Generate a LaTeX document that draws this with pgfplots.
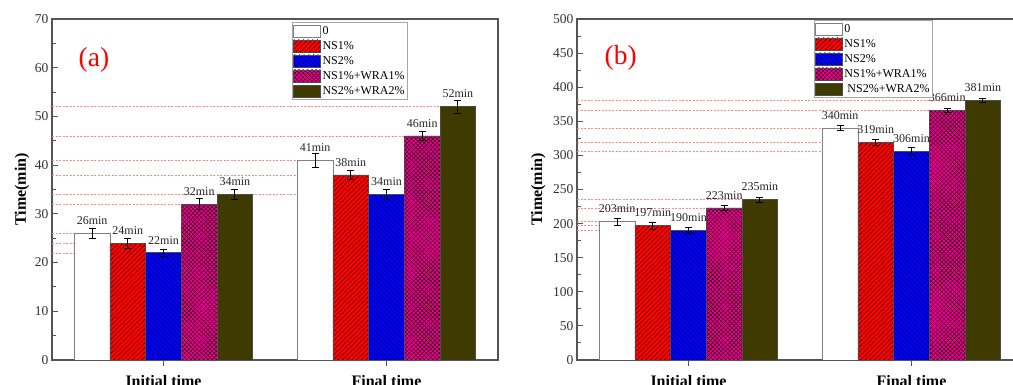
\documentclass[border=0pt]{standalone}
\usepackage{fontspec}
\setmainfont{Liberation Serif}
\usepackage{pgfplots}
\pgfplotsset{compat=1.18}
\usetikzlibrary{patterns.meta}

\definecolor{darkolive}{RGB}{62,58,0}
\definecolor{refline}{RGB}{255,135,135}
\definecolor{axgray}{RGB}{85,85,85}

\pgfplotsset{
  mybar/.style={draw=black!70, line width=0.7pt,
    point meta=y,
    nodes near coords={\pgfmathprintnumber{\pgfplotspointmeta}min},
    nodes near coords style={font=\fontsize{12}{14}\selectfont, text=black!85, yshift=5pt},
    /pgfplots/error bars/y dir=both, /pgfplots/error bars/y explicit,
    /pgfplots/error bars/error bar style={black, line width=0.8pt},
    /pgfplots/error bars/error mark options={rotate=90, black, mark size=3.5pt, line width=0.8pt}},
  refl/.style={sharp plot, draw=refline, line width=0.6pt, dash pattern=on 2pt off 1.5pt, forget plot, mark=none, update limits=false},
  panel/.style={anchor=south west, scale only axis, width=446pt, height=341pt,
    ybar=0pt, bar width=0.16,
    xmin=-0.5, xmax=1.5, ymin=0,
    xtick={0,1}, xticklabels={Initial time, Final time},
    tick pos=left, xtick align=outside, ytick align=inside,
    major tick length=6pt, minor tick length=3.5pt,
    axis line style={draw=axgray, line width=1.3pt},
    tick style={axgray, line width=1pt},
    y tick label style={font=\fontsize{13.5}{15}\selectfont, text=black!80},
    x tick label style={font=\bfseries\fontsize{16}{18}\selectfont, yshift=-6pt},
    ylabel={Time(min)},
    /pgf/number format/assume math mode=true,
    legend cell align=left,
    legend style={draw=gray!70, line width=0.8pt, inner sep=1pt, fill=white,
      font=\fontsize{12}{14}\selectfont, row sep=0pt,
      nodes={inner sep=1.5pt, text height=9.5pt, text depth=2.5pt}},
    legend image code/.code={\draw[##1] (0pt,-6pt) rectangle (27pt,6pt);},
  },
  redbar/.style={fill=red, postaction={pattern={Lines[angle=45,distance=3.3pt,line width=0.35pt]}}},
  bluebar/.style={fill=blue, postaction={pattern={Lines[angle=-45,distance=3.3pt,line width=0.35pt]}}},
  magbar/.style={fill=magenta, postaction={pattern={Hatch[angle=45,distance=3pt,line width=0.3pt]}}},
}

\begin{document}
\begin{tikzpicture}
\useasboundingbox (0,0) rectangle (1013pt,385pt);
\fill[white] (0,0) rectangle (1013pt,385pt);
% ---------------- panel (a)
\begin{axis}[panel, at={(52pt,25pt)}, ymax=70, ytick distance=10, minor y tick num=1,
  ylabel style={font=\bfseries\fontsize{16}{18}\selectfont, at={(axis description cs:-0.067,0.5)}, anchor=center},
  legend style={at={(rel axis cs:0.538,0.991)}, anchor=north west}]
\addplot[refl] coordinates {(-0.5,26) (-0.40,26)};
\addplot[refl] coordinates {(-0.5,24) (-0.24,24)};
\addplot[refl] coordinates {(-0.5,22) (-0.08,22)};
\addplot[refl] coordinates {(-0.5,32) (0.08,32)};
\addplot[refl] coordinates {(-0.5,34) (0.24,34)};
\addplot[refl] coordinates {(-0.5,41) (0.60,41)};
\addplot[refl] coordinates {(-0.5,38) (0.76,38)};
\addplot[refl] coordinates {(-0.5,34) (0.92,34)};
\addplot[refl] coordinates {(-0.5,46) (1.08,46)};
\addplot[refl] coordinates {(-0.5,52) (1.24,52)};
\addplot[mybar, bar shift=-0.32, fill=white, draw=gray] coordinates {(0,26) +- (0,1.0) (1,41) +- (0,1.4)};
\addplot[mybar, bar shift=-0.16, redbar] coordinates {(0,24) +- (0,1.0) (1,38) +- (0,0.85)};
\addplot[mybar, bar shift=0, bluebar] coordinates {(0,22) +- (0,0.8) (1,34) +- (0,1.0)};
\addplot[mybar, bar shift=0.16, magbar] coordinates {(0,32) +- (0,1.1) (1,46) +- (0,1.0)};
\addplot[mybar, bar shift=0.32, fill=darkolive] coordinates {(0,34) +- (0,1.1) (1,52) +- (0,1.3)};
\legend{0, NS1\%, NS2\%, NS1\%+WRA1\%, NS2\%+WRA2\%}
\node[text=red, font=\fontsize{27.5}{30}\selectfont] at (rel axis cs:0.094,0.88) {(a)};
\end{axis}
% ---------------- panel (b)
\begin{axis}[panel, at={(577pt,25pt)}, ymax=500, ytick distance=50, minor y tick num=1,
  ylabel style={font=\bfseries\fontsize{16}{18}\selectfont, at={(axis description cs:-0.087,0.5)}, anchor=center},
  legend style={at={(rel axis cs:0.531,0.997)}, anchor=north west}]
\addplot[refl] coordinates {(-0.5,203) (-0.40,203)};
\addplot[refl] coordinates {(-0.5,197) (-0.24,197)};
\addplot[refl] coordinates {(-0.5,190) (-0.08,190)};
\addplot[refl] coordinates {(-0.5,223) (0.08,223)};
\addplot[refl] coordinates {(-0.5,235) (0.24,235)};
\addplot[refl] coordinates {(-0.5,340) (0.60,340)};
\addplot[refl] coordinates {(-0.5,319) (0.76,319)};
\addplot[refl] coordinates {(-0.5,306) (0.92,306)};
\addplot[refl] coordinates {(-0.5,366) (1.08,366)};
\addplot[refl] coordinates {(-0.5,381) (1.24,381)};
\addplot[mybar, bar shift=-0.32, fill=white, draw=gray] coordinates {(0,203) +- (0,5) (1,340) +- (0,4)};
\addplot[mybar, bar shift=-0.16, redbar] coordinates {(0,197) +- (0,5) (1,319) +- (0,5)};
\addplot[mybar, bar shift=0, bluebar] coordinates {(0,190) +- (0,4) (1,306) +- (0,5)};
\addplot[mybar, bar shift=0.16, magbar] coordinates {(0,223) +- (0,4) (1,366) +- (0,3.5)};
\addplot[mybar, bar shift=0.32, fill=darkolive] coordinates {(0,235) +- (0,3.5) (1,381) +- (0,3)};
\legend{0, NS1\%, NS2\%, NS1\%+WRA1\%, \ NS2\%+WRA2\%}
\node[text=red, font=\fontsize{27.5}{30}\selectfont] at (rel axis cs:0.098,0.886) {(b)};
\end{axis}
\end{tikzpicture}
\end{document}
